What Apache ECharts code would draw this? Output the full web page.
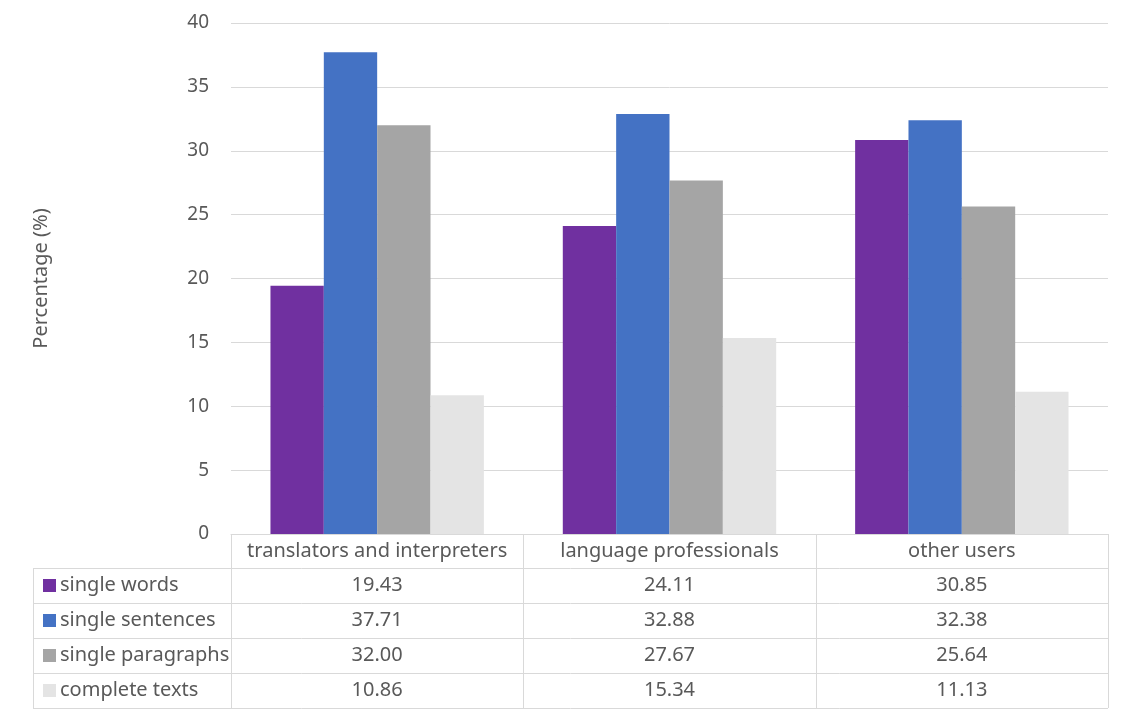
<!DOCTYPE html>
<html><head><meta charset="utf-8">
<script src="https://cdn.jsdelivr.net/npm/echarts@6/dist/echarts.min.js"></script>
<style>html,body{margin:0;padding:0;background:#fff}#c{width:1131px;height:718px}</style>
</head><body><div id="c"></div>
<script>
const categories = ['translators and interpreters', 'language professionals', 'other users'];
const seriesNames = ['single words', 'single sentences', 'single paragraphs', 'complete texts'];
const singleWords = [19.43, 24.11, 30.85];
const singleSentences = [37.71, 32.88, 32.38];
const singleParagraphs = [32.00, 27.67, 25.64];
const completeTexts = [10.86, 15.34, 11.13];
const yTicks = [0, 5, 10, 15, 20, 25, 30, 35, 40];
const colors = ['#7030a0', '#4472c4', '#a5a5a5', '#e4e4e4'];
const allValues = [singleWords, singleSentences, singleParagraphs, completeTexts];

const FONT = 'Noto Sans';
const TXT = '#595959';
const LINE = '#d9d9d9';
const G = {left: 231, right: 23, top: 23, bottom: 184};
const W = 1131, H = 718;
const TFS = 20;

const chart = echarts.init(document.getElementById('c'));
const option = {
  animation: false,
  grid: {left: G.left, right: G.right, top: G.top, bottom: G.bottom},
  xAxis: {
    type: 'category', data: categories,
    axisLine: {show: true, lineStyle: {color: LINE, width: 1}},
    axisTick: {show: false}, axisLabel: {show: false}
  },
  yAxis: {
    type: 'value', min: yTicks[0], max: yTicks[yTicks.length - 1], interval: 5,
    name: 'Percentage (%)', nameLocation: 'middle', nameGap: 180, nameRotate: 90,
    nameTextStyle: {color: TXT, fontFamily: FONT, fontSize: 20},
    axisLine: {show: false}, axisTick: {show: false},
    axisLabel: {color: TXT, fontFamily: FONT, fontSize: 19, margin: 22},
    splitLine: {lineStyle: {color: LINE, width: 1}}
  },
  series: seriesNames.map((n, i) => ({
    name: n, type: 'bar', data: allValues[i],
    barGap: '0%', barCategoryGap: '27%',
    itemStyle: {color: colors[i]}
  }))
};
chart.setOption(option);

// Build data table from the arrays
const plotW = W - G.left - G.right;
const colW = plotW / categories.length;
const tableTop = H - G.bottom;
const rowYs = [tableTop, 568, 603, 638, 673, 708];
const tableLeft = 33;
const right = W - G.right;
const els = [];
const font = TFS + 'px "' + FONT + '"';
const ln = (x1, y1, x2, y2) => els.push({type: 'line', shape: {x1, y1, x2, y2}, style: {stroke: LINE, lineWidth: 1}, silent: true});
for (let r = 1; r < rowYs.length; r++) ln(tableLeft, rowYs[r] + 0.5, right, rowYs[r] + 0.5);
ln(tableLeft + 0.5, rowYs[1], tableLeft + 0.5, rowYs[5]);
for (let c = 0; c <= categories.length; c++) {
  const x = Math.round(G.left + c * colW) + 0.5;
  ln(x, tableTop, x, rowYs[5]);
}
categories.forEach((cat) => {
  const cx = chart.convertToPixel({xAxisIndex: 0}, cat);
  els.push({type: 'text', x: cx, y: (rowYs[0] + rowYs[1]) / 2, style: {text: cat, fill: TXT, font: font, align: 'center', verticalAlign: 'middle'}, silent: true});
});
seriesNames.forEach((n, r) => {
  const cy = (rowYs[r + 1] + rowYs[r + 2]) / 2;
  els.push({type: 'rect', shape: {x: 43, y: cy - 6.5, width: 13, height: 13}, style: {fill: colors[r]}, silent: true});
  els.push({type: 'text', x: 60, y: cy, style: {text: n, fill: TXT, font: font, align: 'left', verticalAlign: 'middle'}, silent: true});
  categories.forEach((cat, c) => {
    const cx = chart.convertToPixel({xAxisIndex: 0}, cat);
    els.push({type: 'text', x: cx, y: cy, style: {text: allValues[r][c].toFixed(2), fill: TXT, font: font, align: 'center', verticalAlign: 'middle'}, silent: true});
  });
});
chart.setOption({graphic: {elements: els}});
</script></body></html>
